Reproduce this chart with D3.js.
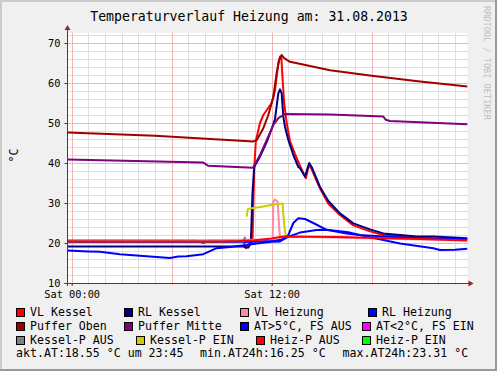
<!DOCTYPE html>
<html>
<head>
<meta charset="utf-8">
<script src="https://cdn.jsdelivr.net/npm/d3@7"></script>
<style>
html, body { margin: 0; padding: 0; background: #f0f0f0; }
svg { display: block; font-family: "DejaVu Sans Mono", monospace; }
</style>
</head>
<body>
<svg id="chart" width="497" height="371"></svg>
<script>
// --- data: [hour of 31.08.2013, °C] ---
const vlKessel = [[-0.25,20.6],[7.5,20.6],[7.9,20.0],[8.3,20.6],[10.3,20.6],[10.45,18.7],[10.6,19.6],[10.85,20.5],
  [10.95,38],[11.05,45.5],[11.3,50],[11.5,52],[11.8,53.8],[12,55],[12.2,58.2],[12.4,65],[12.5,66.6],[12.58,66.6],
  [12.66,60.7],[12.75,55],[12.9,50],[13.1,45.5],[13.4,42.3],[13.7,39.3],[14.05,36.2],[14.25,39.6],[14.4,38.4],
  [14.9,33.6],[15.4,29.8],[16.1,27],[16.9,24.4],[17.9,22.9],[18.7,22.0],[19.7,21.6],[20.7,21.3],[21.7,21.1],[23.75,20.9]];
const rlKessel = [[-0.25,19.1],[10.3,19.1],[10.45,18.9],[10.6,18.9],[10.75,20],[10.85,32.5],[10.95,39],[11.3,41.6],
  [11.7,45.2],[12,48.5],[12.2,51],[12.4,57.4],[12.5,58.4],[12.6,57.4],[12.7,51.6],[12.8,49],[13,45.75],[13.3,42],
  [13.6,39],[13.7,38.7],[14,36.6],[14.25,40],[14.4,39],[14.9,34],[15.4,30.5],[16.1,27.4],[16.9,24.9],[17.9,23.4],
  [18.7,22.4],[19.7,22],[20.7,21.6],[21.7,21.6],[23.75,21.2]];
const vlHeizung = [[-0.25,20.4],[12,20.9],[12.06,21.2],[12.1,30.3],[12.2,30.9],[12.36,30.3],[12.45,24],[12.5,21.2],
  [13,21.6],[23.75,20.6]];
const rlHeizung = [[-0.25,20.25],[10,20.25],[11,20.3],[12,20.5],[12.6,20.8],[13,22],[13.3,25],[13.6,26.2],[14,26],
  [14.5,25],[15.3,23.3],[16.5,22.4],[17.3,22],[18.7,21.6],[20.9,21.2],[23.75,21]];
const pufferOben = [[-0.25,47.6],[5,46.8],[10.9,45.4],[11.1,45.7],[11.5,48.7],[11.8,52],[12.1,56.5],[12.3,62.5],
  [12.45,65.7],[12.6,67],[12.75,66.2],[13.1,65.3],[15.5,63.2],[18,61.8],[20.9,60.4],[23.75,59.1]];
const pufferMitte = [[-0.25,40.9],[7.9,40.1],[8.18,39.3],[10.88,38.8],[11.3,42],[11.7,45.7],[12.1,49.5],[12.4,51.2],
  [12.8,52.25],[15.5,52.1],[18.7,51.6],[18.85,50.8],[19.1,50.5],[23.75,49.7]];
const aussenTemp = [[-0.25,18.1],[1,17.9],[1.7,17.8],[2.9,17.2],[4.5,16.7],[5.9,16.25],[6.4,16.6],[6.9,16.7],
  [7.9,17.2],[8.7,18.7],[9.5,19],[10.5,19.5],[11,19.8],[11.6,20.1],[12,20.3],[12.5,20.4],[13,21.6],[13.7,22.6],
  [14.7,23.25],[15.2,23.31],[15.7,23.1],[16.6,22.7],[17.7,21.6],[18.7,20.75],[19.7,19.9],[21.7,18.7],[22.1,18.25],
  [23,18.3],[23.75,18.55]];
const kesselPAus = [[-0.25,20.4],[10.3,20.4],[10.38,21.3],[10.46,21.3],[10.5,null]];
const kesselPEin = [[10.5,26.6],[10.56,28.4],[10.8,28.7],[11.5,29.1],[12.2,29.7],[12.66,29.9],[12.7,27],[12.8,22.8],[12.85,21.8]];
const heizPAus = [[-0.25,20.4],[9,20.4],[10,20.5],[11,20.7],[12,21.1],[12.7,21.6],[16,21.5],[19,21.2],[21,21],[23.75,20.6]];

const legendLabels = ["VL Kessel","RL Kessel","VL Heizung","RL Heizung","Puffer Oben","Puffer Mitte",
  "AT>5°C, FS AUS","AT<2°C, FS EIN","Kessel-P AUS","Kessel-P EIN","Heiz-P AUS","Heiz-P EIN"];
const legendColors = ["#ff0000","#000080","#ff88aa","#0000ff","#a00000","#800080",
  "#0000ff","#ff00ff","#808080","#cccc00","#ff0000","#00ff00"];
const seriesData = [vlKessel, rlKessel, vlHeizung, rlHeizung, pufferOben, pufferMitte,
  aussenTemp, [], kesselPAus, kesselPEin, heizPAus, []];
const statsLabels = ["akt.AT:18.55 °C um 23:45", "min.AT24h:16.25 °C", "max.AT24h:23.31 °C"];
const yTicks = [10, 20, 30, 40, 50, 60, 70];
const titleText = "Temperaturverlauf Heizung am: 31.08.2013";

// --- layout ---
const W = 497, H = 371;
const plot = { left: 67.5, right: 467.5, top: 33, bottom: 283 };
const base = new Date(2013, 7, 31, 0, 0);
const t = h => new Date(base.getTime() + h * 3600e3);

const x = d3.scaleTime().domain([t(-0.25), t(23.75)]).range([plot.left, plot.right]);
const y = d3.scaleLinear().domain([10, 72.5]).range([plot.bottom, plot.top]);

const svg = d3.select("#chart");

// frame with rrdtool style shading
svg.append("rect").attr("width", W).attr("height", H).attr("fill", "#f0f0f0");
svg.append("path").attr("d", `M0,0H${W}V2H2V${H}H0Z`).attr("fill", "#cbcbcb");
svg.append("path").attr("d", `M${W},${H}H0V${H - 2}H${W - 2}V0H${W}Z`).attr("fill", "#999999");

// title
svg.append("text").attr("x", 249).attr("y", 20.7).attr("text-anchor", "middle")
  .style("font-size", "13.2px").attr("fill", "#000").text(titleText);

// watermark
svg.append("text").attr("transform", "translate(484,6) rotate(90)")
  .style("font-size", "8.6px").attr("fill", "#c0c0c0").text("RRDTOOL / TOBI OETIKER");

// plot background
svg.append("rect").attr("x", plot.left).attr("y", plot.top)
  .attr("width", plot.right - plot.left).attr("height", plot.bottom - plot.top).attr("fill", "#fff");

// grid
const grid = svg.append("g").attr("shape-rendering", "crispEdges");
const minorX = x.ticks(d3.timeHour.every(1));
const majorX = x.ticks(d3.timeHour.every(6)).map(d => +d);
grid.selectAll(".vmin").data(minorX.filter(d => !majorX.includes(+d))).enter().append("line")
  .attr("x1", d => Math.round(x(d)) + 0.5).attr("x2", d => Math.round(x(d)) + 0.5)
  .attr("y1", plot.top).attr("y2", plot.bottom + 2).attr("stroke", "#dedede");
grid.selectAll(".hmin").data(d3.range(12, 73, 2).filter(v => v % 10 !== 0)).enter().append("line")
  .attr("x1", plot.left - 2).attr("x2", plot.right)
  .attr("y1", d => Math.round(y(d)) + 0.5).attr("y2", d => Math.round(y(d)) + 0.5).attr("stroke", "#dedede");
grid.selectAll(".vmaj").data(majorX).enter().append("line")
  .attr("x1", d => Math.round(x(d)) + 0.5).attr("x2", d => Math.round(x(d)) + 0.5)
  .attr("y1", plot.top).attr("y2", plot.bottom + 2).attr("stroke", "#f0b4b4");
grid.selectAll(".hmaj").data(yTicks).enter().append("line")
  .attr("x1", plot.left - 2).attr("x2", plot.right)
  .attr("y1", d => Math.round(y(d)) + 0.5).attr("y2", d => Math.round(y(d)) + 0.5).attr("stroke", "#f0b4b4");

// series
svg.append("clipPath").attr("id", "clip").append("rect")
  .attr("x", plot.left).attr("y", plot.top - 2)
  .attr("width", plot.right - plot.left).attr("height", plot.bottom - plot.top + 2);

const line = d3.line()
  .defined(d => d[1] != null)
  .x(d => x(t(d[0])))
  .y(d => y(d[1]));

const lines = svg.append("g").attr("clip-path", "url(#clip)");
seriesData.forEach((data, i) => {
  if (!data.length) return;
  lines.append("path").datum(data)
    .attr("fill", "none")
    .attr("stroke", legendColors[i])
    .attr("stroke-width", 2)
    .attr("stroke-linejoin", "round")
    .attr("d", line);
});

// axes
const axisColor = "#404040", arrowColor = "#a02020";
const yAxis = svg.append("g").attr("transform", `translate(${plot.left},0)`)
  .call(d3.axisLeft(y).tickValues(yTicks).tickSize(3).tickPadding(4));
yAxis.select(".domain").remove();
yAxis.selectAll("line").attr("stroke", axisColor);
yAxis.selectAll("text").style("font-size", "10.3px").style("font-family", "DejaVu Sans Mono").attr("fill", "#000");

const xAxis = svg.append("g").attr("transform", `translate(0,${plot.bottom})`)
  .call(d3.axisBottom(x).ticks(d3.timeHour.every(12)).tickFormat(d3.timeFormat("%a %H:%M")).tickSize(3));
xAxis.select(".domain").remove();
xAxis.selectAll("line").attr("stroke", axisColor);
xAxis.selectAll("text").attr("y", 14.5).attr("dy", null)
  .style("font-size", "10.3px").style("font-family", "DejaVu Sans Mono").attr("fill", "#000");

svg.append("line").attr("x1", plot.left).attr("x2", plot.left)
  .attr("y1", plot.bottom + 3).attr("y2", plot.top - 4).attr("stroke", axisColor);
svg.append("line").attr("x1", plot.left - 3).attr("x2", plot.right + 2)
  .attr("y1", plot.bottom + 0.5).attr("y2", plot.bottom + 0.5).attr("stroke", axisColor);
svg.append("path").attr("d", `M${plot.left - 3},${plot.top - 3}L${plot.left + 3},${plot.top - 3}L${plot.left},${plot.top - 8}Z`)
  .attr("fill", arrowColor);
svg.append("path").attr("d", `M${plot.right + 1},${plot.bottom - 2.5}L${plot.right + 1},${plot.bottom + 3.5}L${plot.right + 6},${plot.bottom + 0.5}Z`)
  .attr("fill", arrowColor);

// y label
svg.append("text").attr("transform", "translate(17.5,155.5) rotate(-90)")
  .attr("text-anchor", "middle").style("font-size", "11.6px").attr("fill", "#000").text("°C");

// legend
const colX = [[16, 124, 240, 368], [16, 124, 240, 362], [16, 136, 256, 362]];
const rowY = [315.5, 329.5, 343.5];
const legend = svg.append("g").style("font-size", "11.6px");
legendLabels.forEach((label, i) => {
  const r = Math.floor(i / 4), c = i % 4;
  const lx = colX[r][c], ly = rowY[r];
  legend.append("rect").attr("x", lx + 0.5).attr("y", ly - 7.5).attr("width", 8).attr("height", 8)
    .attr("fill", legendColors[i]).attr("stroke", "#000").attr("shape-rendering", "crispEdges");
  legend.append("text").attr("x", lx + 14).attr("y", ly).attr("fill", "#000").text(label);
});
const statX = [16, 200, 342.5];
statsLabels.forEach((s, i) => {
  legend.append("text").attr("x", statX[i]).attr("y", 357).attr("fill", "#000").text(s);
});
</script>
</body>
</html>
